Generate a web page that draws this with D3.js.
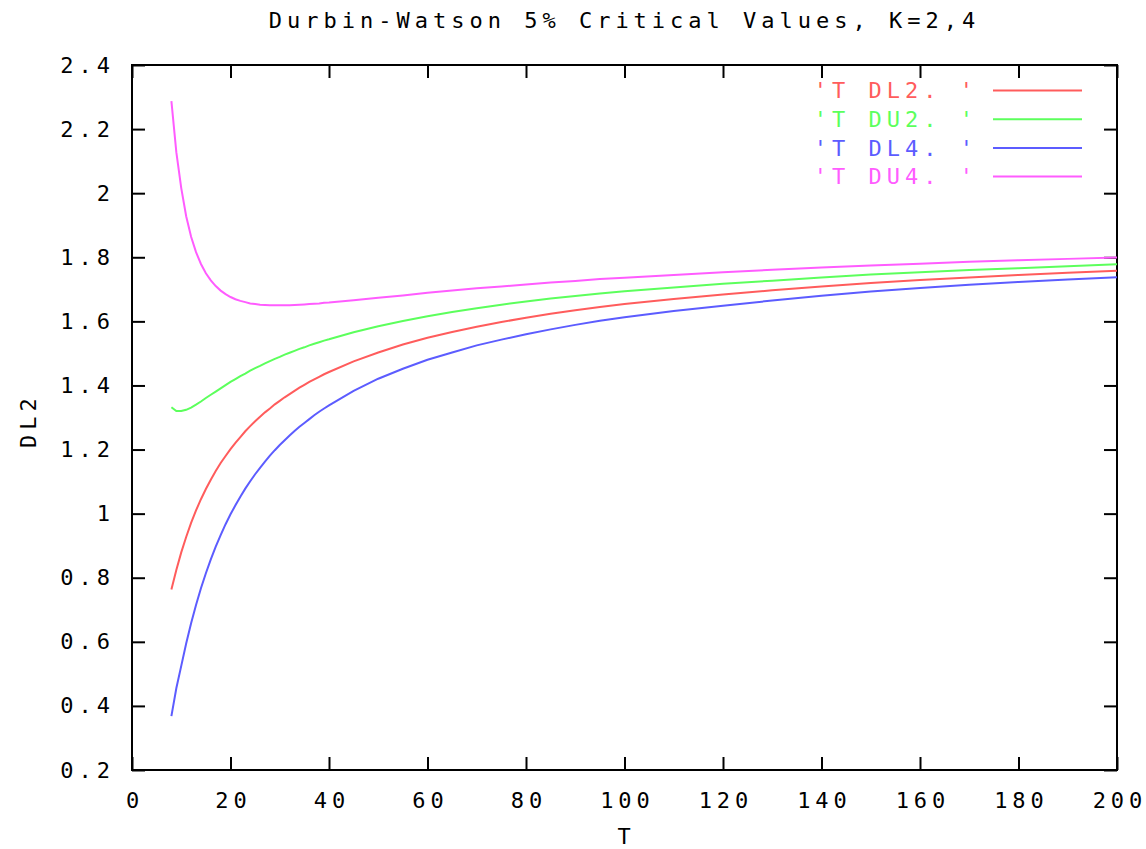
<!DOCTYPE html>
<html>
<head>
<meta charset="utf-8">
<script src="https://cdn.jsdelivr.net/npm/d3@7"></script>
<style>
  body { margin: 0; background: #fff; }
  text { font-family: "DejaVu Sans Mono", monospace; font-size: 22px; letter-spacing: 5px; fill: #000; }
</style>
</head>
<body>
<div id="chart"></div>
<script>
// Durbin-Watson 5% critical values
const T = [8, 9, 10, 11, 12, 13, 14, 15, 16, 17, 18, 19, 20, 21, 22, 23, 24, 25, 26, 27, 28, 29, 30,
  31, 32, 33, 34, 35, 36, 37, 38, 39, 40, 45, 50, 55, 60, 65, 70, 75, 80, 85, 90, 95, 100,
  110, 120, 130, 140, 150, 160, 170, 180, 190, 200];
const DL2 = [0.763, 0.824, 0.879, 0.927, 0.971, 1.010, 1.045, 1.077, 1.106, 1.133, 1.158, 1.180, 1.201,
  1.221, 1.239, 1.257, 1.273, 1.288, 1.302, 1.316, 1.328, 1.341, 1.352, 1.363, 1.373, 1.383, 1.393,
  1.402, 1.411, 1.419, 1.427, 1.435, 1.442, 1.475, 1.503, 1.528, 1.549, 1.567, 1.583, 1.598, 1.611,
  1.624, 1.635, 1.645, 1.654,
  1.670, 1.684, 1.697, 1.709, 1.720, 1.729, 1.737, 1.745, 1.752, 1.758];
const DU2 = [1.332, 1.320, 1.320, 1.324, 1.331, 1.340, 1.350, 1.361, 1.371, 1.381, 1.391, 1.401, 1.411,
  1.420, 1.429, 1.437, 1.446, 1.454, 1.461, 1.469, 1.476, 1.483, 1.489, 1.496, 1.502, 1.508, 1.514,
  1.519, 1.525, 1.530, 1.535, 1.540, 1.544, 1.566, 1.585, 1.601, 1.616, 1.629, 1.641, 1.652, 1.662,
  1.671, 1.679, 1.687, 1.694,
  1.706, 1.717, 1.727, 1.737, 1.746, 1.753, 1.760, 1.766, 1.772, 1.778];
const DL4 = [0.368, 0.455, 0.525, 0.595, 0.658, 0.715, 0.767, 0.814, 0.857, 0.897, 0.933, 0.967, 0.998,
  1.026, 1.053, 1.078, 1.101, 1.123, 1.143, 1.162, 1.181, 1.198, 1.214, 1.229, 1.244, 1.258, 1.271,
  1.283, 1.295, 1.307, 1.318, 1.328, 1.338, 1.383, 1.421, 1.452, 1.480, 1.503, 1.525, 1.543, 1.560,
  1.575, 1.589, 1.602, 1.613,
  1.632, 1.649, 1.665, 1.680, 1.693, 1.704, 1.714, 1.723, 1.731, 1.738];
const DU4 = [2.287, 2.128, 2.016, 1.928, 1.864, 1.816, 1.779, 1.750, 1.728, 1.710, 1.696, 1.685, 1.676,
  1.669, 1.664, 1.660, 1.656, 1.654, 1.652, 1.651, 1.650, 1.650, 1.650, 1.650, 1.650, 1.651, 1.652,
  1.653, 1.654, 1.655, 1.656, 1.658, 1.659, 1.666, 1.674, 1.681, 1.689, 1.696, 1.703, 1.709, 1.715,
  1.721, 1.726, 1.732, 1.736,
  1.745, 1.753, 1.761, 1.768, 1.774, 1.780, 1.786, 1.791, 1.795, 1.799];

const seriesNames = ["'T DL2. '", "'T DU2. '", "'T DL4. '", "'T DU4. '"];
const seriesValues = [DL2, DU2, DL4, DU4];
const colors = ["#ff5c5c", "#5cff5c", "#5c5cff", "#ff5cff"];

const xTicks = d3.range(0, 201, 20);
const yTicks = [0.2, 0.4, 0.6, 0.8, 1, 1.2, 1.4, 1.6, 1.8, 2, 2.2, 2.4];

const width = 1146, height = 849;
const margin = { top: 65, right: 29, bottom: 79, left: 132 };
const innerW = width - margin.left - margin.right;
const innerH = height - margin.top - margin.bottom;
const ls = 5; // letter spacing, trails after the last glyph

const svg = d3.select("#chart").append("svg")
  .attr("width", width)
  .attr("height", height);

const g = svg.append("g")
  .attr("transform", `translate(${margin.left},${margin.top})`);

const x = d3.scaleLinear().domain([0, 200]).range([0, innerW]);
const y = d3.scaleLinear().domain([0.2, 2.4]).range([innerH, 0]);

const tickLen = 13;

// ticks, inward on all four sides
g.append("g")
  .attr("transform", `translate(0,${innerH})`)
  .call(d3.axisBottom(x).tickValues(xTicks).tickSizeInner(-tickLen).tickSizeOuter(0).tickPadding(22).tickFormat(d3.format("d")))
  .call(ax => ax.select(".domain").remove())
  .call(ax => ax.selectAll(".tick text").attr("dx", ls / 2));
g.append("g")
  .call(d3.axisTop(x).tickValues(xTicks).tickSizeInner(-tickLen).tickSizeOuter(0).tickFormat(""))
  .call(ax => ax.select(".domain").remove());
g.append("g")
  .call(d3.axisLeft(y).tickValues(yTicks).tickSizeInner(-tickLen).tickSizeOuter(0).tickPadding(22 - ls).tickFormat(d => d))
  .call(ax => ax.select(".domain").remove());
g.append("g")
  .attr("transform", `translate(${innerW},0)`)
  .call(d3.axisRight(y).tickValues(yTicks).tickSizeInner(-tickLen).tickSizeOuter(0).tickFormat(""))
  .call(ax => ax.select(".domain").remove());

g.selectAll(".tick line").attr("stroke", "#000").attr("stroke-width", 2);
g.selectAll(".tick text")
  .style("font-family", "'DejaVu Sans Mono', monospace")
  .style("font-size", "22px")
  .attr("fill", "#000");

// frame
g.append("rect")
  .attr("width", innerW)
  .attr("height", innerH)
  .attr("fill", "none")
  .attr("stroke", "#000")
  .attr("stroke-width", 2);

// curves
const line = d3.line()
  .x((d, i) => x(T[i]))
  .y(d => y(d));

g.selectAll(".series")
  .data(seriesValues)
  .enter()
  .append("path")
  .attr("class", "series")
  .attr("fill", "none")
  .attr("stroke", (d, i) => colors[i])
  .attr("stroke-width", 2)
  .attr("d", line);

// legend
const legend = g.selectAll(".legend")
  .data(seriesNames)
  .enter()
  .append("g")
  .attr("class", "legend")
  .attr("transform", (d, i) => `translate(0,${25.5 + i * 28.7})`);

legend.append("text")
  .attr("x", 841 + ls)
  .attr("dy", "0.35em")
  .attr("text-anchor", "end")
  .style("fill", (d, i) => colors[i])
  .text(d => d);

legend.append("line")
  .attr("x1", 861)
  .attr("x2", 950)
  .attr("stroke", (d, i) => colors[i])
  .attr("stroke-width", 2);

// title and axis labels
svg.append("text")
  .attr("x", 622 + ls / 2)
  .attr("y", 28)
  .attr("text-anchor", "middle")
  .text("Durbin-Watson 5% Critical Values, K=2,4");

svg.append("text")
  .attr("x", 624 + ls / 2)
  .attr("y", 844)
  .attr("text-anchor", "middle")
  .text("T");

svg.append("text")
  .attr("transform", `translate(36,${418 + ls / 2}) rotate(-90)`)
  .attr("text-anchor", "middle")
  .text("DL2");
</script>
</body>
</html>
